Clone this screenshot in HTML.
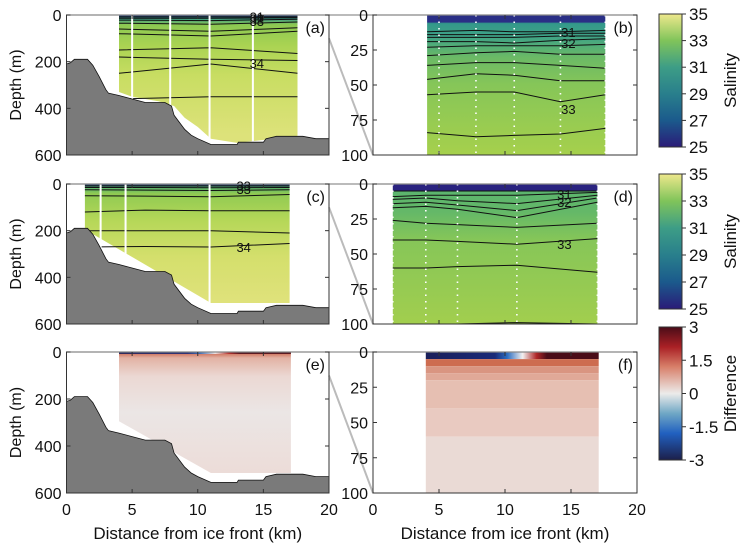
<!DOCTYPE html>
<html><head><meta charset="utf-8"><style>
body{margin:0;background:#fff}
svg{display:block;font-family:"Liberation Sans",sans-serif}
</style></head><body>
<svg id="fig" width="749" height="548" viewBox="0 0 749 548" xmlns="http://www.w3.org/2000/svg">
<defs>
<linearGradient id="cmSal" x1="0" y1="1" x2="0" y2="0">
<stop offset="0" stop-color="#2a1b78"/><stop offset="0.2" stop-color="#1b5a8c"/><stop offset="0.4" stop-color="#297f8c"/><stop offset="0.6" stop-color="#3d9d86"/><stop offset="0.8" stop-color="#80c45a"/><stop offset="1" stop-color="#eee88c"/></linearGradient>
<linearGradient id="cmDif" x1="0" y1="1" x2="0" y2="0">
<stop offset="0" stop-color="#1c1f4a"/><stop offset="0.2" stop-color="#2160c0"/><stop offset="0.35" stop-color="#6fa7c5"/><stop offset="0.5" stop-color="#ecebea"/><stop offset="0.7" stop-color="#d8806a"/><stop offset="0.85" stop-color="#aa2025"/><stop offset="1" stop-color="#4a0c18"/></linearGradient>
<linearGradient id="gA" gradientUnits="userSpaceOnUse" x1="0" y1="15" x2="0" y2="135">
<stop offset="0" stop-color="#1c2a7a"/><stop offset="0.03" stop-color="#3a9a88"/><stop offset="0.08" stop-color="#8cc852"/><stop offset="0.25" stop-color="#a9d352"/><stop offset="0.5" stop-color="#c8dd62"/><stop offset="1" stop-color="#dde27a"/></linearGradient>
<linearGradient id="gC" gradientUnits="userSpaceOnUse" x1="0" y1="184" x2="0" y2="305">
<stop offset="0" stop-color="#1c2a7a"/><stop offset="0.03" stop-color="#5cb56f"/><stop offset="0.08" stop-color="#90ca52"/><stop offset="0.3" stop-color="#b5d758"/><stop offset="0.6" stop-color="#d4df6c"/><stop offset="1" stop-color="#e0e27c"/></linearGradient>
<linearGradient id="gB" gradientUnits="userSpaceOnUse" x1="0" y1="15" x2="0" y2="155">
<stop offset="0" stop-color="#2a2f86"/><stop offset="0.05" stop-color="#2a2f86"/><stop offset="0.06" stop-color="#33988a"/><stop offset="0.15" stop-color="#3ea287"/><stop offset="0.3" stop-color="#6ab966"/><stop offset="0.5" stop-color="#86c658"/><stop offset="1" stop-color="#a6d04c"/></linearGradient>
<linearGradient id="gD" gradientUnits="userSpaceOnUse" x1="0" y1="184" x2="0" y2="324">
<stop offset="0" stop-color="#2a2380"/><stop offset="0.045" stop-color="#2a2380"/><stop offset="0.055" stop-color="#5cb56e"/><stop offset="0.2" stop-color="#64b868"/><stop offset="0.4" stop-color="#86c658"/><stop offset="1" stop-color="#a2ce4e"/></linearGradient>
<linearGradient id="gE" gradientUnits="userSpaceOnUse" x1="0" y1="352" x2="0" y2="473">
<stop offset="0" stop-color="#c86048"/><stop offset="0.05" stop-color="#e2b2a4"/><stop offset="0.2" stop-color="#ebd8d3"/><stop offset="0.5" stop-color="#ebe6e5"/><stop offset="1" stop-color="#ecdcd8"/></linearGradient>
<linearGradient id="topF" x1="0" y1="0" x2="1" y2="0">
<stop offset="0" stop-color="#1a1f5a"/><stop offset="0.4" stop-color="#1a2a78"/><stop offset="0.47" stop-color="#2a6cc0"/><stop offset="0.56" stop-color="#f2f0f0"/><stop offset="0.64" stop-color="#b02828"/><stop offset="0.7" stop-color="#4a0c18"/><stop offset="1" stop-color="#4a0c18"/></linearGradient>
</defs>
<g id="root"></g>
</svg>
<script>
// ---- data ----
const bathyKm    = [0,0.3,0.6,1.6,2,2.5,3,3.2,4,5,6,7.5,8,8.2,9,9.5,10,11,13,13.1,15,15.2,16,18,19,20];
const bathyDepth = [210,205,190,190,215,265,320,335,345,360,375,375,390,430,490,515,530,555,555,545,545,530,520,520,530,530];
const regionAKm    = [4,17.6,17.6,13,11,10,9,8.2,7,5,4];
const regionADepth = [0,0,518,548,530,480,440,390,370,350,330];
const regionCKm    = [1.4,17,17,11,1.4];
const regionCDepth = [0,0,510,510,195];
const regionEKm    = [4,17.1,17.1,11,4];
const regionEDepth = [0,0,515,515,295];
const stationsA = [5,7.9,10.9,14.2];
const stationsC = [2.6,4.5,10.9];
const stationsB = [5,7.8,10.7,14.2,17.6];
const stationsD = [1.5,4,6.4,10.9,17];
const contAKm = [4,11,17.6];
const contADepth = [[8,8,8],[14,14,12],[22,24,18],[35,40,30],[60,70,55],[80,90,70],[150,140,165],[180,190,195],[250,210,250],[360,350,350]];
const contBKm = [4.1,7.8,10.7,14.2,17.6];
const contBDepth = [[12,11,12,12,11],[14,14,14,13,13],[16,16,16,15,15],[19,19,20,18,17],[23,22,22,22,21],[29,27,26,28,28],[36,34,34,36,38],[46,42,43,47,47],[57,55,55,62,57],[84,87,86,85,81]];
const contCKm = [1.4,6,11,17];
const contCDepth = [[8,8,8,8],[15,15,16,15],[25,26,28,25],[50,52,55,45],[120,112,115,115],[200,200,200,210],[270,268,270,255]];
const contDKm = [1.5,4,6.4,10.9,17];
const contDDepth = [[5,5,5,5,5],[9,8,8,8,6],[11,10,12,14,8],[14,13,15,19,10],[17,16,18,24,13],[26,28,29,31,28],[40,40,41,43,39],[60,60,59,58,63],[100,100,100,99,100]];
const contLabels = [
 {p:0,t:"31",x:14.5,d:6},{p:0,t:"32",x:14.5,d:14},{p:0,t:"33",x:14.5,d:26},{p:0,t:"34",x:14.5,d:205},
 {p:1,t:"31",x:14.8,d:12},{p:1,t:"32",x:14.8,d:20},{p:1,t:"33",x:14.8,d:67},
 {p:2,t:"33",x:13.5,d:6},{p:2,t:"33",x:13.5,d:22},{p:2,t:"34",x:13.5,d:270},
 {p:3,t:"31",x:14.5,d:7},{p:3,t:"32",x:14.5,d:13},{p:3,t:"33",x:14.5,d:43}];
const leftTicks = [0,200,400,600];
const rightTicks = [0,25,50,75,100];
const xTicks = [0,5,10,15,20];
const salTicks = [35,33,31,29,27,25];
const difTicks = [3,1.5,0,-1.5,-3];
const fRows = [0,5,10,15,20,40,60,100];
const fColors = ["#topF","#cd6c50","#d99581","#e0a998","#e6bfb2","#e9cac1","#eadad5"];

// ---- layout ----
const NS="http://www.w3.org/2000/svg";
const root=document.getElementById('root');
const L={x0:66.5,x1:329};
const R={x0:373,x1:637};
const rows=[[15,155],[184,324],[352,493]];
function mk(tag,attrs,parent){const e=document.createElementNS(NS,tag);for(const k in attrs)e.setAttribute(k,attrs[k]);(parent||root).appendChild(e);return e;}
function ax(col,row,ymax){
  return {sx:k=>col.x0+(col.x1-col.x0)*k/20, sy:d=>rows[row][0]+(rows[row][1]-rows[row][0])*d/ymax};
}
function poly(a,xs,ds,attrs,name){
  const pts=xs.map((k,i)=>a.sx(k).toFixed(1)+','+a.sy(ds[i]).toFixed(1)).join(' ');
  const e=mk('polygon',Object.assign({points:pts},attrs));
  
  
  return e;
}
function pline(a,xs,ds,attrs,name){
  const pts=xs.map((k,i)=>a.sx(k).toFixed(1)+','+a.sy(ds[i]).toFixed(1)).join(' ');
  const e=mk('polyline',Object.assign({points:pts,fill:'none'},attrs));
  
  
  return e;
}
function text(x,y,t,attrs,name){
  const e=mk('text',Object.assign({x:x,y:y,'font-size':16,fill:'#111'},attrs));
  e.textContent=t;
  
  
  return e;
}
const bathyPolyKm=[0].concat(bathyKm,[20]);
const bathyPolyD=[600].concat(bathyDepth,[600]);

const letters=['a','c','e'];
const rletters=['b','d','f'];
const fills=['url(#gA)','url(#gC)','url(#gE)'];
const regK=[regionAKm,regionCKm,regionEKm], regD=[regionADepth,regionCDepth,regionEDepth];
const stL=[stationsA,stationsC,null];
const stR=[stationsB,stationsD,null];
const cL=[[contAKm,contADepth],[contCKm,contCDepth],null];
const cR=[[contBKm,contBDepth],[contDKm,contDDepth],null];
const rRange=[[4.1,17.6],[1.5,17],[4,17.1]];

for(let r=0;r<3;r++){
  const a=ax(L,r,600);
  poly(a,regK[r],regD[r],{fill:fills[r]},'section-fill-'+letters[r]);
  if(cL[r]) cL[r][1].forEach((ds,i)=>pline(a,cL[r][0],ds,{stroke:'#111','stroke-width':1},'contour-'+letters[r]));
  if(stL[r]) stL[r].forEach(k=>{const e=mk('line',{x1:a.sx(k),x2:a.sx(k),y1:a.sy(0),y2:a.sy(580),stroke:'#fff','stroke-width':2});});
  const b=ax(R,r,100);
  const rk=rRange[r];
  if(r<2){
    poly(b,[rk[0],rk[1],rk[1],rk[0]],[0,0,100,100],{fill:r==0?'url(#gB)':'url(#gD)'},'zoom-fill-'+rletters[r]);
    cR[r][1].forEach(ds=>pline(b,cR[r][0],ds,{stroke:'#111','stroke-width':1},'contour-'+rletters[r]));
    stR[r].forEach(k=>{const e=mk('line',{x1:b.sx(k),x2:b.sx(k),y1:b.sy(0),y2:b.sy(100),stroke:'#fff','stroke-width':1.6,'stroke-dasharray':'1.5 5'});});
  } else {
    for(let i=0;i<fRows.length-1;i++){
      poly(b,[rk[0],rk[1],rk[1],rk[0]],[fRows[i],fRows[i],fRows[i+1],fRows[i+1]],{fill:i==0?'url(#topF)':fColors[i]},'difference-row');
    }
    poly(a,[rk[0],rk[1],rk[1],rk[0]],[0,0,8,8],{fill:'url(#topF)'},'difference-top-e');
  }
  poly(a,bathyPolyKm,bathyPolyD,{fill:'#7a7a7a',stroke:'#111','stroke-width':0.8},'bathymetry-'+letters[r]);
  const c1=mk('polyline',{points:`${L.x1},${rows[r][0]} ${R.x0},${rows[r][0]}`,stroke:'#bbb','stroke-width':2,fill:'none'});
  
  const c2=mk('line',{x1:L.x1,y1:a.sy(100),x2:R.x0,y2:rows[r][1],stroke:'#bbb','stroke-width':2});
  
  [[L,a,leftTicks,600,letters[r]],[R,b,rightTicks,100,rletters[r]]].forEach(([col,s,ticks,ym,lt])=>{
    const bx=mk('rect',{x:col.x0,y:rows[r][0],width:col.x1-col.x0,height:rows[r][1]-rows[r][0],fill:'none',stroke:'#333','stroke-width':1});
    
    const tl=mk('line',{x1:col.x0,x2:col.x1,y1:rows[r][0],y2:rows[r][0],stroke:'#888','stroke-width':1.2});
    
    ticks.forEach(t=>{
      const y=s.sy(t);
      mk('line',{x1:col.x0,x2:col.x0+4,y1:y,y2:y,stroke:'#333'});
      mk('line',{x1:col.x1,x2:col.x1-4,y1:y,y2:y,stroke:'#333'});
      text(col.x0-5,y+6,String(t),{'text-anchor':'end'},'y-tick-label');
    });
    xTicks.forEach(t=>{
      const x=s.sx(t);
      mk('line',{x1:x,x2:x,y1:rows[r][1],y2:rows[r][1]-4,stroke:'#333'});
      mk('line',{x1:x,x2:x,y1:rows[r][0],y2:rows[r][0]+4,stroke:'#333'});
      if(r==2) text(x,rows[r][1]+22,String(t),{'text-anchor':'middle'},'x-tick-label');
    });
    text(col.x1-4,rows[r][0]+18,'('+lt+')',{'text-anchor':'end'},'panel-label-'+lt);
  });
  text(0,0,'Depth (m)',{'text-anchor':'middle',transform:`translate(21,${(rows[r][0]+rows[r][1])/2}) rotate(-90)`},'y-axis-title');
}
contLabels.forEach(o=>{
  const col=(o.p==0||o.p==2)?L:R, row=(o.p<2)?0:1, ym=(o.p==0||o.p==2)?600:100;
  const s=ax(col,row,ym);
  text(s.sx(o.x),s.sy(o.d)+5,o.t,{'text-anchor':'middle','font-size':13},'contour-label');
});
text((L.x0+L.x1)/2,539,'Distance from ice front (km)',{'text-anchor':'middle','font-size':17},'x-axis-title');
text((R.x0+R.x1)/2,539,'Distance from ice front (km)',{'text-anchor':'middle','font-size':17},'x-axis-title');
const cbs=[[14,147,'cmSal',salTicks,'Salinity'],[174,309,'cmSal',salTicks,'Salinity'],[327,460,'cmDif',difTicks,'Difference']];
cbs.forEach(([y0,y1,g,ticks,title])=>{
  const rc=mk('rect',{x:659,y:y0,width:23,height:y1-y0,fill:`url(#${g})`,stroke:'#333','stroke-width':1});
  
  ticks.forEach((t,i)=>{
    const y=y0+(y1-y0)*i/(ticks.length-1);
    mk('line',{x1:682,x2:686,y1:y,y2:y,stroke:'#333'});
    text(689,y+6,String(t),{'font-size':17},'colorbar-tick');
  });
  text(0,0,title,{'text-anchor':'middle','font-size':17,transform:`translate(736,${(y0+y1)/2}) rotate(-90)`},'colorbar-title');
});
</script>
</body></html>
